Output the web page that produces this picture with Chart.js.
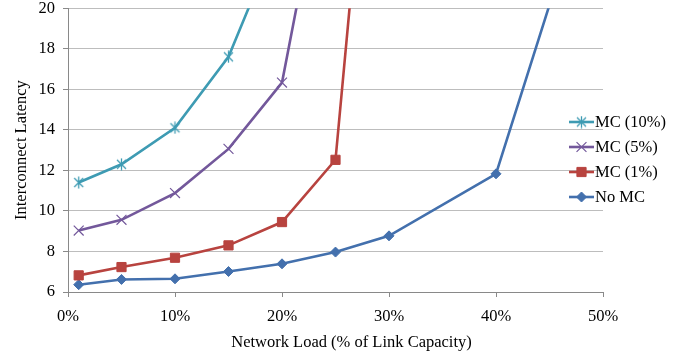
<!DOCTYPE html>
<html>
<head>
<meta charset="utf-8">
<script src="https://cdn.jsdelivr.net/npm/chart.js@4/dist/chart.umd.min.js"></script>
<style>
  html, body { margin: 0; padding: 0; background: #fff; }
  #wrap { width: 686px; height: 355px; position: relative; }
</style>
</head>
<body>
<div id="wrap"><canvas id="chart"></canvas></div>
<script>
// series labels (legend order)
const seriesNames = ['MC (10%)', 'MC (5%)', 'MC (1%)', 'No MC'];

// network load (% of link capacity) for each series
const loadMC10 = [1, 5, 10, 15, 20];
const loadMC5 = [1, 5, 10, 15, 20, 25];
const loadMC1 = [1, 5, 10, 15, 20, 25, 30];
const loadNoMC = [1, 5, 10, 15, 20, 25, 30, 40, 50];

// interconnect latency (last points run off the top of the plot)
const latMC10 = [11.4, 12.3, 14.1, 17.6, 24];
const latMC5 = [9.03, 9.56, 10.88, 13.06, 16.33, 30];
const latMC1 = [6.82, 7.23, 7.69, 8.3, 9.45, 12.52, 41];
const latNoMC = [6.36, 6.62, 6.65, 7.01, 7.39, 7.97, 8.77, 11.83, 28.5];

const xTicks = [0, 10, 20, 30, 40, 50];
const yTicks = [6, 8, 10, 12, 14, 16, 18, 20];
const xTitle = 'Network Load (% of Link Capacity)';
const yTitle = 'Interconnect Latency';

const FONT = '"Liberation Serif", "Times New Roman", serif';
const FSIZE = 16.5;

const toPoints = (xs, ys) => xs.map((x, i) => ({ x: x, y: ys[i] }));

// Excel style asterisk: an X with a vertical bar through it
function asterisk(color) {
  const c = document.createElement('canvas');
  c.width = 13; c.height = 13;
  const g = c.getContext('2d');
  g.strokeStyle = color;
  g.lineWidth = 1.3;
  g.beginPath();
  g.moveTo(2, 2); g.lineTo(11, 11);
  g.moveTo(11, 2); g.lineTo(2, 11);
  g.moveTo(6.5, 0.5); g.lineTo(6.5, 12.5);
  g.stroke();
  return c;
}

function series(label, xs, ys, color, style, radius, bw) {
  return {
    label: label,
    data: toPoints(xs, ys),
    borderColor: color,
    backgroundColor: color,
    borderWidth: 2.6,
    pointStyle: style,
    pointRadius: radius,
    pointBorderWidth: bw,
    pointBorderColor: color,
    pointBackgroundColor: color,
    tension: 0
  };
}

// legend drawn at the right, over the plot edge like the original,
// plus the x axis title (centred a bit right of the plot, as in Excel)
const sideLegend = {
  id: 'sideLegend',
  afterDraw(chart) {
    const ctx = chart.ctx;
    ctx.save();
    chart.data.datasets.forEach((ds, i) => {
      const y = 122 + i * 25;
      ctx.strokeStyle = ds.borderColor;
      ctx.fillStyle = ds.borderColor;
      ctx.lineWidth = 2.6;
      ctx.beginPath();
      ctx.moveTo(569, y);
      ctx.lineTo(594, y);
      ctx.stroke();
      if (Chart.helpers && Chart.helpers.drawPoint) {
        ctx.lineWidth = ds.pointBorderWidth;
        Chart.helpers.drawPoint(ctx, {
          pointStyle: ds.pointStyle,
          radius: ds.pointRadius,
          borderWidth: ds.pointBorderWidth,
          rotation: 0
        }, 581.5, y);
      }
      ctx.fillStyle = '#000';
      ctx.font = FSIZE + 'px ' + FONT;
      ctx.textBaseline = 'middle';
      ctx.textAlign = 'left';
      ctx.fillText(ds.label, 595, y + 1);
    });
    ctx.fillStyle = '#000';
    ctx.font = FSIZE + 'px ' + FONT;
    ctx.textAlign = 'center';
    ctx.textBaseline = 'middle';
    ctx.fillText(xTitle, 351.5, 343);
    ctx.restore();
  }
};

new Chart(document.getElementById('chart'), {
  type: 'line',
  data: {
    datasets: [
      series(seriesNames[0], loadMC10, latMC10, '#3e9bb3', asterisk('#3e9bb3'), 6, 1.2),
      series(seriesNames[1], loadMC5, latMC5, '#73589b', 'crossRot', 7, 1.2),
      series(seriesNames[2], loadMC1, latMC1, '#b8433f', 'rect', 6.5, 1),
      series(seriesNames[3], loadNoMC, latNoMC, '#4370ad', 'rectRot', 5, 1)
    ]
  },
  options: {
    responsive: true,
    maintainAspectRatio: false,
    animation: false,
    layout: { padding: { top: 8, right: 83, bottom: 0, left: 0 } },
    plugins: {
      legend: { display: false },
      tooltip: { enabled: false }
    },
    scales: {
      x: {
        type: 'linear',
        min: 0,
        max: 50,
        afterFit: s => { s.height = 63; s.paddingLeft = 0; s.paddingRight = 0; },
        afterBuildTicks: s => { s.ticks = xTicks.map(v => ({ value: v })); },
        ticks: {
          color: '#000',
          font: { family: FONT, size: FSIZE },
          padding: 10,
          callback: v => v + '%'
        },
        grid: { drawOnChartArea: false, drawTicks: true, tickLength: 5, color: '#898989' },
        border: { color: '#898989', width: 1 },
        title: { display: false }
      },
      y: {
        min: 6,
        max: 20,
        afterFit: s => { s.width = 68; s.paddingTop = 0; s.paddingBottom = 0; },
        afterBuildTicks: s => { s.ticks = yTicks.map(v => ({ value: v })); },
        ticks: {
          color: '#000',
          font: { family: FONT, size: FSIZE },
          padding: 8
        },
        grid: { color: '#bdbdbd', drawTicks: true, tickLength: 5, tickColor: '#898989' },
        border: { color: '#898989', width: 1 },
        title: {
          display: true,
          text: yTitle,
          color: '#000',
          font: { family: FONT, size: FSIZE },
          padding: { top: 12, bottom: 0 }
        }
      }
    }
  },
  plugins: [sideLegend]
});
</script>
</body>
</html>
